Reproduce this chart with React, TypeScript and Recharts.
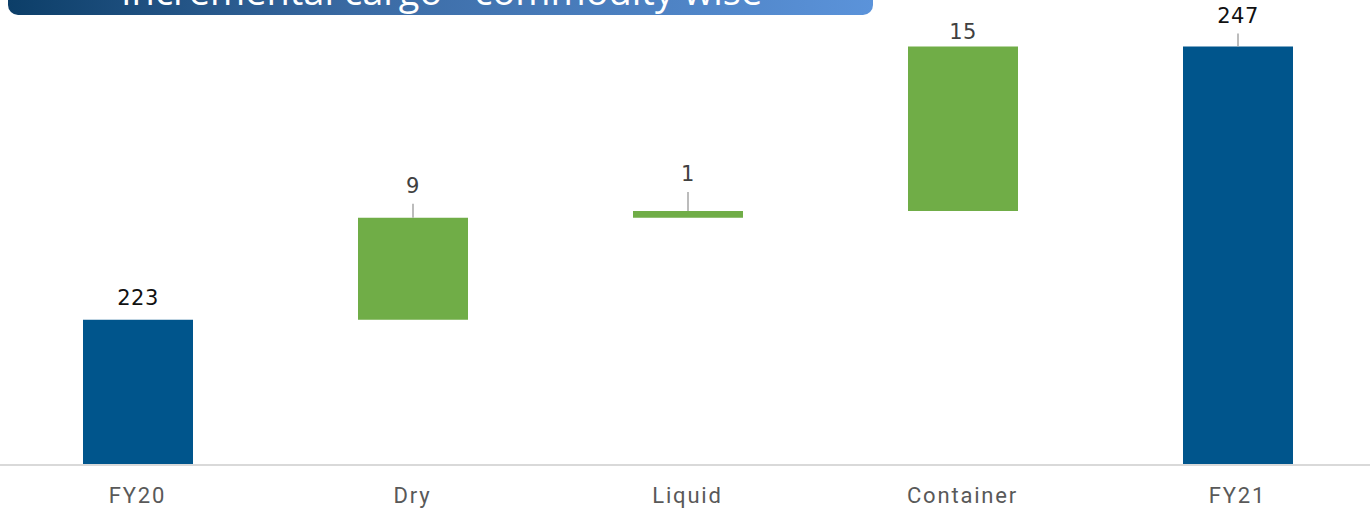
import React from 'react';
import { BarChart, Bar, XAxis, YAxis, LabelList, Cell } from 'recharts';

// Incremental cargo waterfall (million tonnes)
const CATEGORIES = ['FY20', 'Dry', 'Liquid', 'Container', 'FY21'];
const AMOUNTS = [223.2, 9.0, 0.6, 14.5, 247.3];
const IS_TOTAL = [true, false, false, false, true];

const COLORS = {
  total: '#00558c',
  step: '#70ad47',
  axis: '#d9d9d9',
  leader: '#a6a6a6',
  totalLabel: '#111111',
  stepLabel: '#404040',
  tick: '#595959',
};

// how far above the bar top each value label sits; longer lifts get a leader line
const LABEL_LIFT: Record<string, number> = { FY20: 22, Dry: 32, Liquid: 37, Container: 15, FY21: 31 };

// floating bars: [low, high] for every step, totals start from the axis floor
let running = 0;
const rows = CATEGORIES.map((name, i) => {
  const amt = AMOUNTS[i];
  let range: [number, number];
  if (IS_TOTAL[i]) {
    range = [0, amt];
    running = amt;
  } else {
    range = [running, running + amt];
    running += amt;
  }
  return { name, range, amount: amt, total: IS_TOTAL[i] };
});

function ValueLabel(props: any) {
  const { x, y, width, index } = props;
  const row = rows[index];
  const lift = LABEL_LIFT[row.name] ?? 18;
  const cx = x + width / 2;
  const top = Math.min(y, y + (props.height ?? 0));
  return (
    <g>
      {lift > 25 && (
        <line x1={cx} x2={cx} y1={top - lift + 18} y2={top} stroke={COLORS.leader} strokeWidth={1.5} />
      )}
      <text
        x={cx}
        y={top - lift}
        textAnchor="middle"
        dominantBaseline="central"
        fontFamily="'DejaVu Sans', Verdana, sans-serif"
        fontSize={21}
        letterSpacing={0.5}
        fill={row.total ? COLORS.totalLabel : COLORS.stepLabel}
      >
        {Math.round(row.amount)}
      </text>
    </g>
  );
}

function CategoryTick(props: any) {
  const { x, y, payload } = props;
  return (
    <text
      x={x}
      y={y + 22}
      textAnchor="middle"
      dominantBaseline="central"
      fontFamily="Roboto, 'Noto Sans', sans-serif"
      fontSize={22}
      letterSpacing={1.8}
      fill={COLORS.tick}
    >
      {payload.value}
    </text>
  );
}

export default function App() {
  return (
    <div style={{ position: 'relative', width: 1370, height: 512, overflow: 'hidden', background: '#fff' }}>
      <style>{'body { margin: 0; }'}</style>
      {/* title banner, partly scrolled off the top */}
      <div
        style={{
          position: 'absolute',
          left: 8,
          top: -45,
          width: 865,
          height: 60,
          borderRadius: 10,
          background: 'linear-gradient(90deg, #0c3e68 0%, #3a6aa3 40%, #5b93da 100%)',
          color: '#fff',
          fontFamily: "'Open Sans', sans-serif",
          fontSize: 38,
          lineHeight: '60px',
          paddingLeft: 113,
          boxSizing: 'border-box',
          whiteSpace: 'nowrap',
          overflow: 'hidden',
        }}
      >
        <span style={{ position: 'relative', top: 5 }}>Incremental cargo - commodity wise</span>
      </div>
      <div style={{ position: 'absolute', left: 0, top: 0 }}>
        <BarChart width={1375} height={512} data={rows} margin={{ top: 0, right: 0, left: 0, bottom: 0 }} barCategoryGap={0}>
          <YAxis hide domain={[210.4, 251.4]} allowDataOverflow />
          <XAxis
            dataKey="name"
            height={47}
            axisLine={{ stroke: COLORS.axis, strokeWidth: 2 }}
            tickLine={false}
            tick={<CategoryTick />}
            interval={0}
          />
          <Bar dataKey="range" barSize={110} isAnimationActive={false}>
            {rows.map((r, i) => (
              <Cell key={i} fill={r.total ? COLORS.total : COLORS.step} />
            ))}
            <LabelList dataKey="amount" content={<ValueLabel />} />
          </Bar>
        </BarChart>
      </div>
    </div>
  );
}
